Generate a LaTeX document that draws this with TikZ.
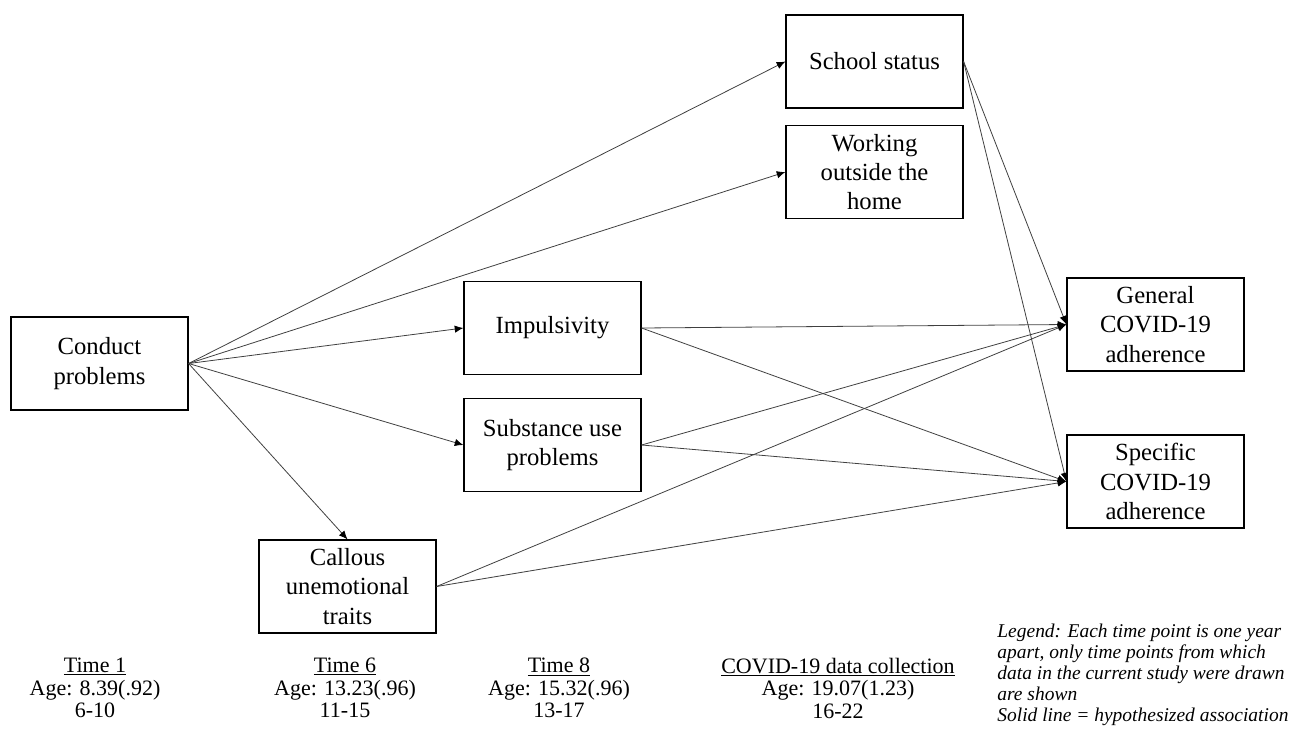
\documentclass[tikz,border=0pt]{standalone}
\usepackage{fontspec}
\setmainfont{Liberation Serif}
\usetikzlibrary{arrows.meta,positioning}

\begin{document}
\begin{tikzpicture}[->,>={Latex[length=6.5pt,width=5.5pt,color=black]},
                    x=0.75pt,y=-0.75pt,line width=0.6pt]
  \tikzstyle{box}=[draw=black,line width=0.9pt,minimum width=132.75pt,
                   minimum height=69.75pt,align=center,inner sep=2pt,
                   font=\fontsize{18.5}{22}\selectfont]
  \tikzstyle{wave}=[align=center,inner sep=0pt,font=\fontsize{16.5}{16.9}\selectfont]
  \tikzstyle{every edge}=[draw=black!75]

  \useasboundingbox (0,0) rectangle (1290,733);

  % variables
  \node[box] (cp) at (99.5,363.5) {Conduct\\problems};
  \node[box] (ss) at (874.5,61.5)  {School status};
  \node[box] (wo) at (874.5,172)   {Working\\outside the\\home};
  \node[box] (im) at (552.5,328)   {Impulsivity};
  \node[box] (su) at (552.5,445)   {Substance use\\problems};
  \node[box] (cu) at (347.5,586.5) {Callous\\unemotional\\traits};
  \node[box] (ga) at (1155.5,324.5) {General\\COVID-19\\adherence};
  \node[box] (sa) at (1155.5,481.5) {Specific\\COVID-19\\adherence};

  % paths
  \path (cp.east) edge (ss.west)
                  edge (wo.west)
                  edge (im.west)
                  edge (su.west)
                  edge (cu.north);
  \path (ss.east) edge (ga.west)
                  edge (sa.west);
  \path (im.east) edge (ga.west)
                  edge (sa.west);
  \path (su.east) edge (ga.west)
                  edge (sa.west);
  \path (cu.east) edge (ga.west)
                  edge (sa.west);

  % time points
  \node[wave] (t1) at (95,688)  {\underline{Time 1}\\Age: 8.39(.92)\\6-10};
  \node[wave] (t6) at (345,688) {\underline{Time 6}\\Age: 13.23(.96)\\11-15};
  \node[wave] (t8) at (559,688) {\underline{Time 8}\\Age: 15.32(.96)\\13-17};
  \node[wave] (tc) at (838,688) {\underline{COVID-19 data collection}\\Age: 19.07(1.23)\\16-22};

  % legend
  \node[anchor=west,align=left,inner sep=0pt,
        font=\fontsize{14.6}{15.75}\selectfont\itshape] (lg) at (997,675)
    {Legend: Each time point is one year\\apart, only time points from which\\
     data in the current study were drawn\\are shown\\
     Solid line = hypothesized association};
\end{tikzpicture}
\end{document}
